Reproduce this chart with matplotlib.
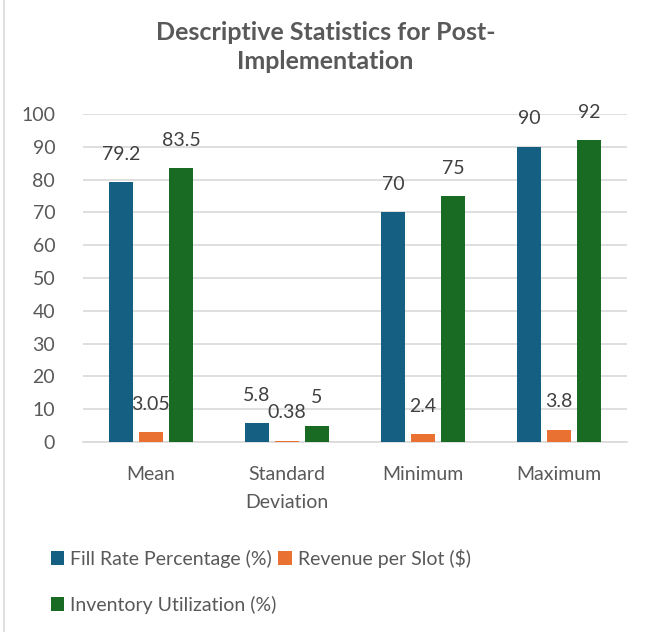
import numpy as np
import matplotlib.pyplot as plt
from matplotlib.lines import Line2D

categories = ["Mean", "Standard\nDeviation", "Minimum", "Maximum"]
series_names = ["Fill Rate Percentage (%)", "Revenue per Slot ($)", "Inventory Utilization (%)"]
fill_rate = [79.2, 5.8, 70, 90]
revenue = [3.05, 0.38, 2.4, 3.8]
inventory = [83.5, 5, 75, 92]
fill_labels = ["79.2", "5.8", "70", "90"]
revenue_labels = ["3.05", "0.38", "2.4", "3.8"]
inventory_labels = ["83.5", "5", "75", "92"]

colors = ["#156082", "#E97132", "#196B24"]
text_color = "#595959"
label_color = "#404040"


def main():
    plt.rcParams["font.family"] = ["Lato", "DejaVu Sans"]
    fig = plt.figure(figsize=(6.51, 6.32), dpi=100)
    ax = fig.add_axes([83 / 651, 1 - 442 / 632, 544 / 651, 328 / 632])

    x = np.arange(len(categories))
    width = 0.176
    step = 0.22
    all_vals = [fill_rate, revenue, inventory]
    all_labels = [fill_labels, revenue_labels, inventory_labels]
    handles = []
    for i, (vals, labs) in enumerate(zip(all_vals, all_labels)):
        bars = ax.bar(x + (i - 1) * step, vals, width, color=colors[i], zorder=3,
                      label=series_names[i])
        handles.append(bars)
        for b, lab in zip(bars, labs):
            ax.annotate(lab, (b.get_x() + b.get_width() / 2, b.get_height()),
                        xytext=(0, 14), textcoords="offset points",
                        ha="center", va="bottom", fontsize=14, color=label_color)

    ax.set_xlim(-0.5, 3.5)
    ax.set_ylim(0, 100)
    ax.set_yticks(np.arange(0, 101, 10))
    ax.set_xticks(x)
    ax.set_xticklabels(categories, fontsize=14, color=text_color, linespacing=1.8)
    ax.tick_params(axis="y", labelsize=14, labelcolor=text_color, length=0, pad=20)
    ax.tick_params(axis="x", length=0, pad=17)
    ax.grid(axis="y", color="#D9D9D9", linewidth=1.2, zorder=0)
    for s in ["top", "right", "left"]:
        ax.spines[s].set_visible(False)
    ax.spines["bottom"].set_color("#D9D9D9")
    ax.spines["bottom"].set_linewidth(1.2)

    fig.text(0.5, 1 - 47 / 632, "Descriptive Statistics for Post-\nImplementation",
             ha="center", va="center", fontsize=18, fontweight="bold",
             color=text_color, linespacing=1.35)

    # legend flows row by row: reorder for ncol=2
    order = [0, 2, 1]
    fig.legend([handles[k] for k in order], [series_names[k] for k in order],
               loc="upper left", bbox_to_anchor=(33 / 651, 1 - 531 / 632), ncol=2,
               frameon=False, fontsize=14, labelcolor=text_color,
               handlelength=0.7, handleheight=0.7, handletextpad=0.3,
               columnspacing=0.1, labelspacing=1.45)

    # chart border on the left
    fig.add_artist(Line2D([4 / 651, 4 / 651], [0, 1], color="#D9D9D9", linewidth=1.2))

    fig.savefig("out.png", dpi=100)


if __name__ == '__main__':
    main()
